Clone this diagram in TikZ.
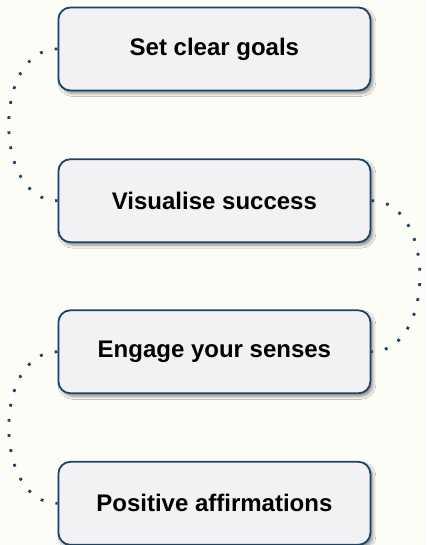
\documentclass[tikz,border=0pt]{standalone}
\usepackage{fontspec}
\setmainfont{Liberation Sans}
\usetikzlibrary{shadows.blur}
\definecolor{paper}{HTML}{FDFDF8}
\definecolor{navy}{HTML}{1C4466}
\definecolor{boxfill}{HTML}{F2F2F4}
\tikzset{
  stepbox/.style={draw=navy, line width=1.8pt, fill=boxfill, rounded corners=12pt,
    minimum width=312pt, minimum height=83pt, inner sep=0pt,
    font=\bfseries\fontsize{24}{28}\selectfont, text=black,
    blur shadow={shadow xshift=2.5pt, shadow yshift=-3pt, shadow blur steps=6,
      shadow blur radius=3pt, shadow opacity=45}},
  dotlink/.style={draw=navy, line width=2.8pt, dash pattern=on 2.8pt off 12.4pt}
}
\begin{document}
\begin{tikzpicture}[x=1pt, y=-1pt]
  \fill[paper] (0,0) rectangle (426,545);
  \useasboundingbox (0,0) rectangle (426,545);

  \node[stepbox] (goals)   at (214.4,49)  {Set clear goals};
  \node[stepbox] (success) at (214.4,200.7) {Visualise success};
  \node[stepbox] (senses)  at (214.4,351.8) {Engage your senses};
  \node[stepbox] (affirm)  at (214.4,503.3) {Positive affirmations};

  \draw[dotlink] (goals.west)  to[out=180, in=180, looseness=1.1] (success.west);
  \draw[dotlink] (success.east) to[out=0, in=0, looseness=1.1] (senses.east);
  \draw[dotlink] (senses.west) to[out=180, in=180, looseness=1.1] (affirm.west);
\end{tikzpicture}
\end{document}
